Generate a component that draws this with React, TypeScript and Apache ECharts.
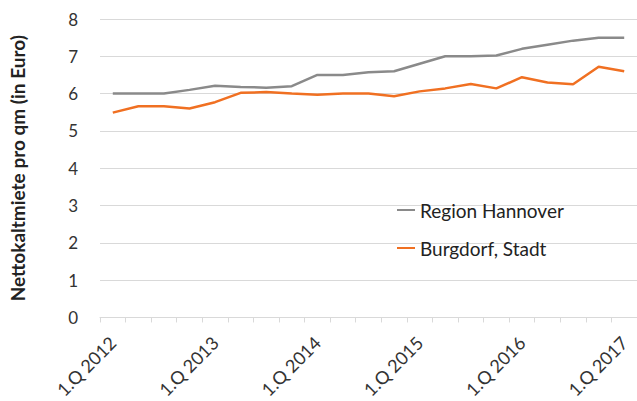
import React, { useEffect, useRef } from "react";
import * as echarts from "echarts";

const categories: string[] = [];
const years = [2012, 2013, 2014, 2015, 2016, 2017];
for (const y of years) {
  for (let q = 1; q <= 4; q++) {
    if (y === 2017 && q > 1) break;
    categories.push(`${q}.Q ${y}`);
  }
}

const regionHannover = [6.0, 6.0, 6.0, 6.1, 6.21, 6.18, 6.16, 6.2, 6.5, 6.5, 6.57, 6.6, 6.8, 7.0, 7.0, 7.02, 7.2, 7.31, 7.42, 7.5, 7.5];
const burgdorf = [5.49, 5.66, 5.66, 5.6, 5.77, 6.02, 6.04, 6.0, 5.97, 6.0, 6.0, 5.93, 6.06, 6.14, 6.26, 6.14, 6.44, 6.3, 6.25, 6.72, 6.6];

const FONT = "Lato, 'Open Sans', sans-serif";

export default function App() {
  const ref = useRef<HTMLDivElement>(null);
  useEffect(() => {
    if (!ref.current) return;
    const chart = echarts.init(ref.current, undefined, { renderer: "svg" });
    chart.setOption({
      animation: false,
      textStyle: { fontFamily: FONT },
      grid: { left: 93, top: 19, right: -2, bottom: 82, containLabel: false },
      legend: {
        orient: "vertical",
        left: 392,
        top: 195,
        itemGap: 18,
        itemWidth: 18,
        itemHeight: 2,
        icon: "rect",
        textStyle: { fontSize: 19, lineHeight: 20, color: "#222", fontFamily: FONT },
        data: ["Region Hannover", "Burgdorf, Stadt"],
      },
      xAxis: {
        type: "category",
        data: categories,
        boundaryGap: true,
        axisLine: { lineStyle: { color: "#d9d9d9", width: 1 } },
        axisTick: { show: true, interval: 0, length: 5, lineStyle: { color: "#d9d9d9" } },
        axisLabel: {
          interval: 3,
          rotate: 45,
          fontSize: 18,
          color: "#333",
          margin: 22,
          fontFamily: FONT,
        },
      },
      yAxis: {
        type: "value",
        min: 0,
        max: 8,
        interval: 1,
        name: "Nettokaltmiete pro qm (in Euro)",
        nameLocation: "middle",
        nameGap: 73,
        nameTextStyle: { fontSize: 19, fontWeight: "bold", color: "#222", fontFamily: FONT },
        axisLine: { show: false },
        axisTick: { show: false },
        axisLabel: { fontSize: 17, color: "#333", margin: 22, fontFamily: FONT },
        splitLine: { lineStyle: { color: "#d9d9d9", width: 1 } },
      },
      series: [
        {
          name: "Region Hannover",
          type: "line",
          data: regionHannover,
          symbol: "none",
          lineStyle: { color: "#8a8a8a", width: 2.5 },
          itemStyle: { color: "#8a8a8a" },
        },
        {
          name: "Burgdorf, Stadt",
          type: "line",
          data: burgdorf,
          symbol: "none",
          lineStyle: { color: "#f07022", width: 2.5 },
          itemStyle: { color: "#f07022" },
        },
      ],
    });
    return () => chart.dispose();
  }, []);
  return <div ref={ref} style={{ width: 637, height: 401, position: "absolute", left: 0, top: 0 }} />;
}
